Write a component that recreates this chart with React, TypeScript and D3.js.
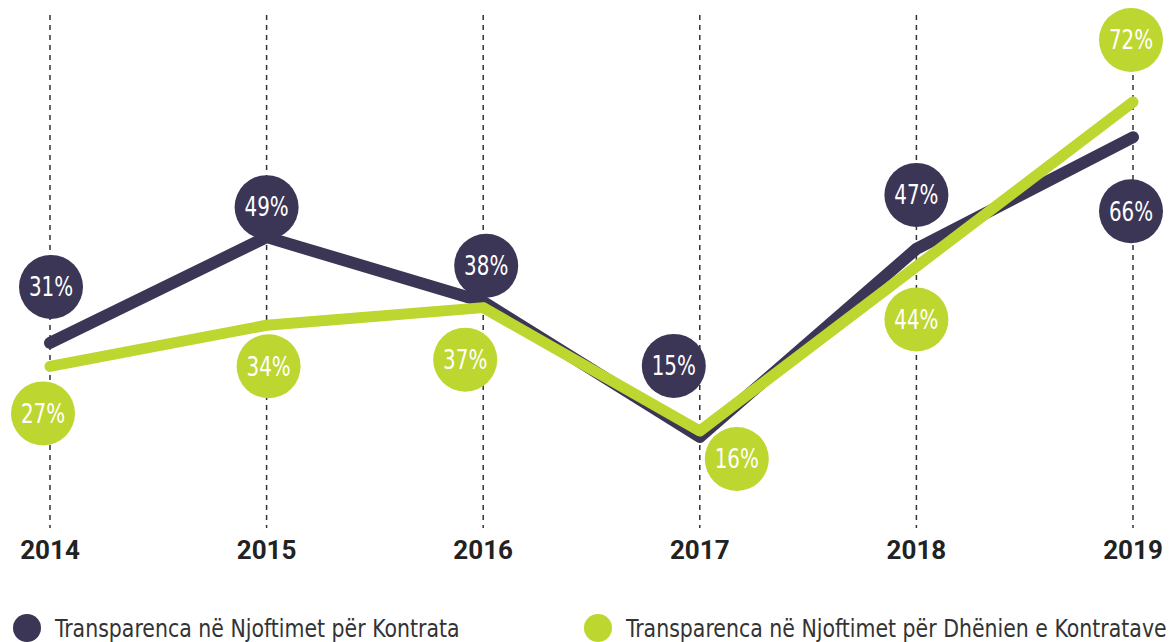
import React, { useEffect, useRef } from "react";
import * as d3 from "d3";

// data
const years = ["2014", "2015", "2016", "2017", "2018", "2019"];
const seriesNames = [
    "Transparenca në Njoftimet për Kontrata",
    "Transparenca në Njoftimet për Dhënien e Kontratave",
];
const contractNotices = [31, 49, 38, 15, 47, 66];
const awardNotices = [27, 34, 37, 16, 44, 72];

// label bubble offsets relative to the point (pixels)
const darkOffsets: [number, number][] = [[1, -56], [0, -30], [3, -36], [-26, -71], [0, -54], [-2, 74]];
const greenOffsets: [number, number][] = [[-7, 47], [2, 41], [-18, 52], [37, 28], [0, 53], [-2, -62]];

const DARK = "#3b3556";
const GREEN = "#bdd630";
const NARROW = "'DejaVu Sans Condensed', 'DejaVu Sans', sans-serif";

const App: React.FC = () => {
    const svgRef = useRef<SVGSVGElement>(null);
    const width = 1173;
    const height = 642;

    useEffect(() => {
        if (!svgRef.current) return;
        const svg = d3.select(svgRef.current);
        svg.selectAll("*").remove();

        const xScale = d3.scalePoint<string>().domain(years).range([50, 1133]);
        const yScale = d3.scaleLinear().domain([0, 80]).range([525, 55]);

        // dashed year gridlines
        svg.append("g")
            .selectAll("line")
            .data(years)
            .join("line")
            .attr("x1", d => xScale(d)!)
            .attr("x2", d => xScale(d)!)
            .attr("y1", 15)
            .attr("y2", 528)
            .attr("stroke", "#333")
            .attr("stroke-width", 1.5)
            .attr("stroke-dasharray", "5,5");

        // year labels
        svg.append("g")
            .selectAll("text")
            .data(years)
            .join("text")
            .attr("x", d => xScale(d)!)
            .attr("y", 559)
            .attr("text-anchor", "middle")
            .attr("fill", "#222")
            .style("font-family", "Roboto, 'DejaVu Sans', sans-serif")
            .style("font-weight", "700")
            .style("font-size", "26px")
            .text(d => d);

        const line = d3
            .line<number>()
            .x((_, i) => xScale(years[i])!)
            .y(d => yScale(d));

        const series = [
            { values: contractNotices, color: DARK, width: 12, offsets: darkOffsets },
            { values: awardNotices, color: GREEN, width: 11, offsets: greenOffsets },
        ];

        series.forEach(s => {
            svg.append("path")
                .datum(s.values)
                .attr("fill", "none")
                .attr("stroke", s.color)
                .attr("stroke-width", s.width)
                .attr("stroke-linecap", "round")
                .attr("stroke-linejoin", "round")
                .attr("d", line);
        });

        // value bubbles
        series.forEach(s => {
            const g = svg.append("g")
                .selectAll("g")
                .data(s.values)
                .join("g")
                .attr("transform", (d, i) =>
                    `translate(${xScale(years[i])! + s.offsets[i][0]},${yScale(d) + s.offsets[i][1]})`);
            g.append("circle")
                .attr("r", 32)
                .attr("fill", s.color);
            g.append("text")
                .attr("text-anchor", "middle")
                .attr("dy", "0.36em")
                .attr("transform", "scale(0.85,1)")
                .attr("fill", "#fff")
                .style("font-family", NARROW)
                .style("font-size", "26px")
                .text(d => `${d}%`);
        });

        // legend
        const legendX = [27, 598];
        const legend = svg.append("g")
            .selectAll("g")
            .data(seriesNames)
            .join("g")
            .attr("transform", (_, i) => `translate(${legendX[i]},628)`);
        legend.append("circle")
            .attr("r", 14)
            .attr("fill", (_, i) => series[i].color);
        legend.append("text")
            .attr("transform", "translate(28,9) scale(0.95,1)")
            .attr("fill", "#333")
            .style("font-family", NARROW)
            .style("font-size", "24px")
            .text(d => d);
    }, []);

    return (
        <svg
            ref={svgRef}
            width={width}
            height={height}
            style={{ position: "absolute", left: 0, top: 0, background: "#fff" }}
        ></svg>
    );
};

export default App;
